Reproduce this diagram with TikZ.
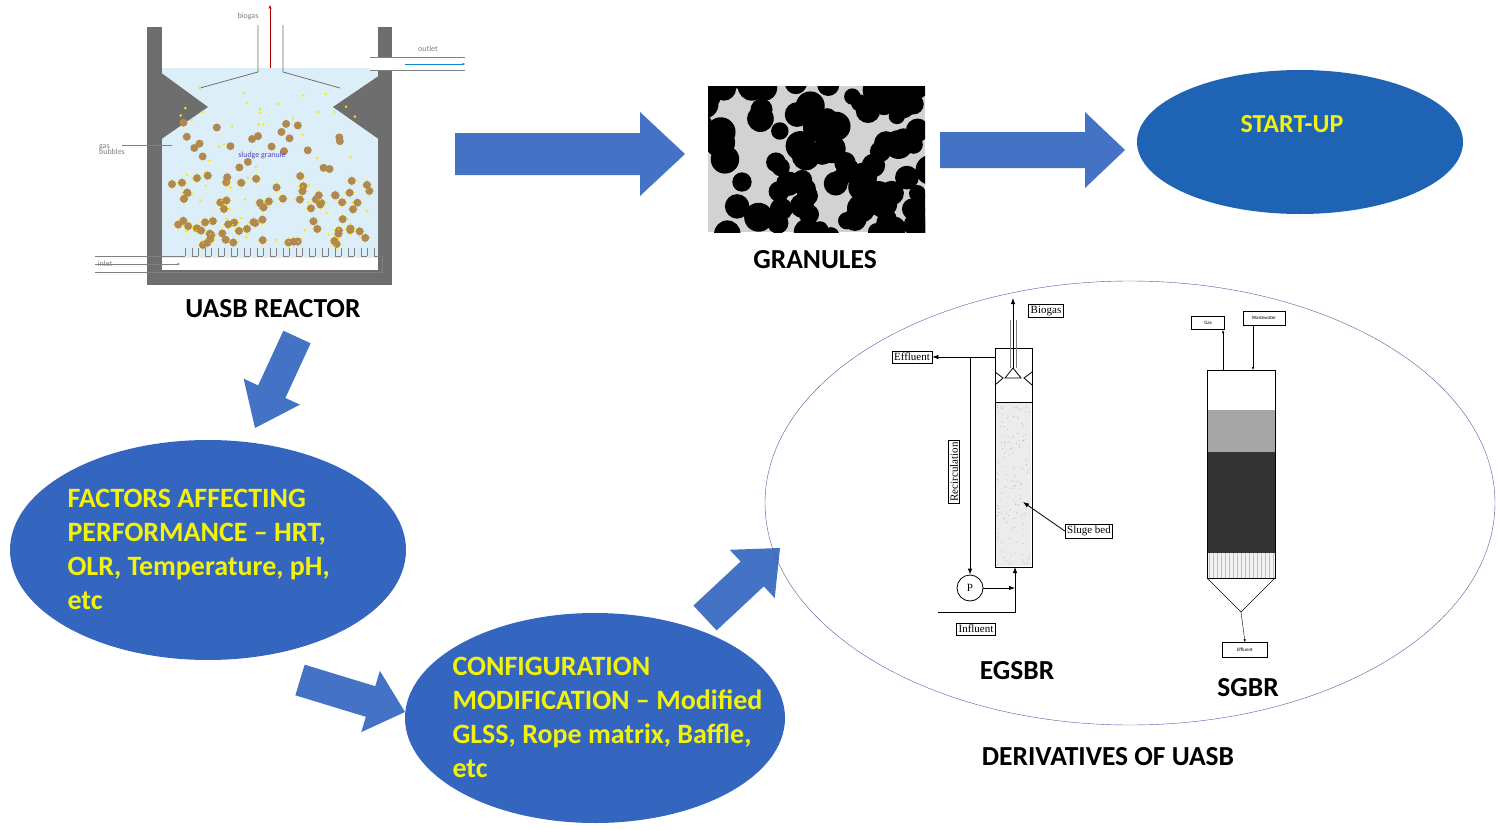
\documentclass[tikz,border=0pt]{standalone}
\usepackage{fontspec}
\setmainfont{Carlito}
\newfontfamily\serifx{Liberation Serif}
\usetikzlibrary{shapes.geometric,arrows.meta,calc}
\definecolor{blk}{HTML}{4472C4}
\definecolor{ell}{HTML}{3466C0}
\definecolor{ell2}{HTML}{1F64B4}
\definecolor{ytxt}{HTML}{F2F20A}
\definecolor{wall}{HTML}{6E6E6E}
\definecolor{water}{HTML}{DCEEF8}
\definecolor{brn}{HTML}{B08850}
\newcommand\blockarr[5]{% tail, tip, shaft half, head half, head length
 \coordinate (H) at ($(#2)!#5!(#1)$);
 \fill[blk] ($(#1)!#3!90:(#2)$) -- ($(H)!#3!-90:(#1)$) -- ($(H)!#4!-90:(#1)$) -- (#2) -- ($(H)!#4!90:(#1)$) -- ($(H)!#3!90:(#1)$) -- ($(#1)!#3!-90:(#2)$) -- cycle;}
\tikzset{
 bell/.style={ellipse,fill=ell,draw=none},
 etxt/.style={text=ytxt,font=\bfseries\fontsize{28}{34}\selectfont,align=left},
 lbl/.style={font=\bfseries\fontsize{27.5}{30}\selectfont},
 sbox/.style={draw,thick,font=\serifx\fontsize{11}{12}\selectfont,inner sep=2pt},
 tiny/.style={font=\fontsize{8}{8}\selectfont,text=gray},
}
\begin{document}
\begin{tikzpicture}[x=1pt,y=-1pt]
\useasboundingbox (0,0) rectangle (1500,830);
\fill[white] (0,0) rectangle (1500,830);
% ---------- reactor
\fill[water] (162,68) rectangle (378,270);
\fill[wall] (147,27) rectangle (162,285);
\fill[wall] (378,27) rectangle (392,285);
\fill[wall] (147,270) rectangle (392,285);
\fill[wall] (160,72) -- (208,107) -- (160,140) -- cycle;
\fill[wall] (380,75) -- (333,107) -- (380,140) -- cycle;
\draw[wall,thick] (258,25) -- (258,72) -- (200,88);
\draw[wall,thick] (283,25) -- (283,72) -- (340,88);
\draw[red!70!black,thick,-{Stealth[length=4pt]}] (270,68) -- (270,5);
\node[tiny] (bg) at (248,16) {biogas};
\fill[white] (370,57) rectangle (465,70);
\draw[gray] (370,57) -- (465,57) (370,70) -- (465,70);
\draw[cyan!70!blue,-{Stealth[length=3pt]}] (405,64) -- (465,64);
\node[tiny] (ol) at (428,49) {outlet};
\node[tiny,align=left] (gb) at (112,150) {gas\\[-2pt]bubbles};
\draw[gray] (122,145) -- (172,145);
\fill[white] (162,258) rectangle (378,270);
\draw[gray,thick] (95,256) -- (185,256);
\foreach \i in {0,...,14}{\draw[gray,thick] ({185+\i*13},256) -- ({185+\i*13},248) ({192+\i*13},248) -- ({192+\i*13},256) -- ({198+\i*13},256);}
\draw[gray,thick] (95,272) -- (382,272) -- (382,256);
\draw[gray,-{Stealth[length=3pt]}] (95,264) -- (180,264);
\node[tiny] (in) at (105,264) {inlet};
\pgfmathsetseed{7}
\foreach \i in {1,...,60}{\pgfmathsetmacro\xx{180+190*rnd}\pgfmathsetmacro\yy{85+160*rnd}\fill[yellow!90!orange] (\xx,\yy) circle (1.4);}
\foreach \i in {1,...,22}{\pgfmathsetmacro\xx{180+180*rnd}\pgfmathsetmacro\yy{120+55*rnd}\fill[brn] (\xx,\yy) circle (4);}
\foreach \i in {1,...,75}{\pgfmathsetmacro\xx{172+200*rnd}\pgfmathsetmacro\yy{175+70*rnd}
  \fill[yellow!90!orange] (\xx-6,\yy) -- (\xx,\yy-1.5) -- (\xx+6,\yy) -- (\xx,\yy+1.5) -- cycle;
  \fill[yellow!90!orange] (\xx,\yy-6) -- (\xx-1.5,\yy) -- (\xx,\yy+6) -- (\xx+1.5,\yy) -- cycle;
  \fill[brn] (\xx,\yy) circle (4);}
\node[tiny,text=blue!40!gray] (sg) at (262,155) {sludge granule};
\node[lbl] (uasb) at (273,309) {UASB REACTOR};
% ---------- granules
\begin{scope}
\clip (708,86) rectangle (925,232);
\fill[gray!35] (708,86) rectangle (925,232);
\pgfmathsetseed{3}
\foreach \i in {1,...,95}{\pgfmathsetmacro\xx{700+235*rnd}\pgfmathsetmacro\yy{80+160*rnd}\pgfmathsetmacro\rr{8+7*rnd}\fill[black] (\xx,\yy) circle (\rr);}
\end{scope}
\node[lbl] (gran) at (815,260) {GRANULES};
% ---------- arrows
\coordinate (t1) at (455,154); \coordinate (p1) at (685,154);
\coordinate (t2) at (940,150); \coordinate (p2) at (1125,150);
\coordinate (t3) at (297,337); \coordinate (p3) at (255,428);
\coordinate (t4) at (300,680); \coordinate (p4) at (405,712);
\coordinate (t5) at (705,618); \coordinate (p5) at (780,548);
\blockarr{t1}{p1}{21pt}{42pt}{45pt}
\blockarr{t2}{p2}{18pt}{38pt}{40pt}
\blockarr{t3}{p3}{15pt}{31pt}{40pt}
\blockarr{t4}{p4}{16pt}{32pt}{36pt}
\blockarr{t5}{p5}{17pt}{33pt}{38pt}
% ---------- ellipses
\node[bell,fill=ell2,minimum width=326pt,minimum height=144pt] (su) at (1300,142) {};
\node[text=ytxt,font=\bfseries\fontsize{26}{28}\selectfont] (sut) at (1292,124) {START-UP};
\node[bell,minimum width=396pt,minimum height=220pt] (fa) at (208,550) {};
\node[etxt,anchor=north west] (fat) at (64,486) {FACTORS AFFECTING\\PERFORMANCE -- HRT,\\OLR, Temperature, pH,\\etc};
\node[bell,minimum width=380pt,minimum height=210pt] (cm) at (595,718) {};
\node[etxt,anchor=north west] (cmt) at (449,654) {CONFIGURATION\\MODIFICATION -- Modified\\GLSS, Rope matrix, Baffle,\\etc};
\node[ellipse,draw=blue!30!gray,minimum width=730pt,minimum height=444pt] (big) at (1130,503) {};
% ---------- EGSBR
\draw[thick] (995,348) rectangle (1032,567);
\fill[gray!15] (996,403) rectangle (1031,566);
\pgfmathsetseed{11}
\foreach \i in {1,...,150}{\fill[gray!60] ({997+33*rnd},{405+160*rnd}) circle (0.5);}
\draw[thick] (995,402) -- (1032,402);
\draw[thick] (995,385) -- (1003,378) -- (995,372);
\draw[thick] (1032,385) -- (1024,378) -- (1032,372);
\draw[thick] (1005,378) -- (1013,368) -- (1021,378) -- cycle;
\node[sbox] (bio) at (1046,311) {Biogas};
\coordinate (bp) at (1013,368);
\draw[thick,-{Latex[length=6pt]}] (bp) -- (1013,298);
\draw[gray] (1010,368) -- (1010,320) (1016,368) -- (1016,320);
\node[sbox] (eff) at (912,357) {Effluent};
\draw[thick,-{Latex[length=6pt]}] (995,357) -- (eff.east);
\node[sbox,rotate=90] (rec) at (954,472) {Recirculation};
\node[draw,thick,circle,minimum size=26pt,inner sep=0pt,font=\serifx\fontsize{11}{11}\selectfont] (p) at (970,588) {P};
\draw[thick,-{Latex[length=6pt]}] (970,357) -- (p.north);
\draw[thick,-{Latex[length=6pt]}] (p.east) -- (1015,588);
\draw[thick,-{Latex[length=6pt]}] (938,612) -- (1015,612) -- (1015,567);
\node[sbox] (inf) at (976,629) {Influent};
\node[sbox] (sl) at (1089,531) {Sluge bed};
\draw[thick,-{Latex[length=6pt]}] (sl.west) -- (1023,502);
\node[lbl] (eg) at (1017,671) {EGSBR};
% ---------- SGBR
\fill[gray!70] (1207,410) rectangle (1275,452);
\fill[black!80] (1207,452) rectangle (1275,553);
\fill[gray!10] (1207,553) rectangle (1275,578);
\foreach \i in {0,...,16}{\draw[gray!50,very thin] ({1209+\i*4},553) -- ({1209+\i*4},578);}
\draw (1207,370) rectangle (1275,578);
\draw (1207,578) -- (1241,612) -- (1275,578);
\node[draw,inner sep=1pt,minimum width=45pt,minimum height=15pt,font=\fontsize{5}{5}\selectfont] (se) at (1245,650) {Effluent};
\draw[-{Latex[length=3pt]}] (1241,612) -- (se.north);
\node[draw,inner sep=1pt,minimum width=33pt,minimum height=13pt,font=\fontsize{5}{5}\selectfont] (sg2) at (1208,323) {Gas};
\draw[-{Latex[length=3pt]}] (1223,370) -- (1223,330);
\node[draw,inner sep=1pt,minimum width=42pt,minimum height=14pt,font=\fontsize{5}{5}\selectfont] (sw) at (1264,318) {Wastewater};
\draw[-{Latex[length=3pt]}] (1253,325) -- (1253,370);
\node[lbl] (sgl) at (1248,688) {SGBR};
\node[lbl] (der) at (1108,757) {DERIVATIVES OF UASB};
\end{tikzpicture}
\end{document}
